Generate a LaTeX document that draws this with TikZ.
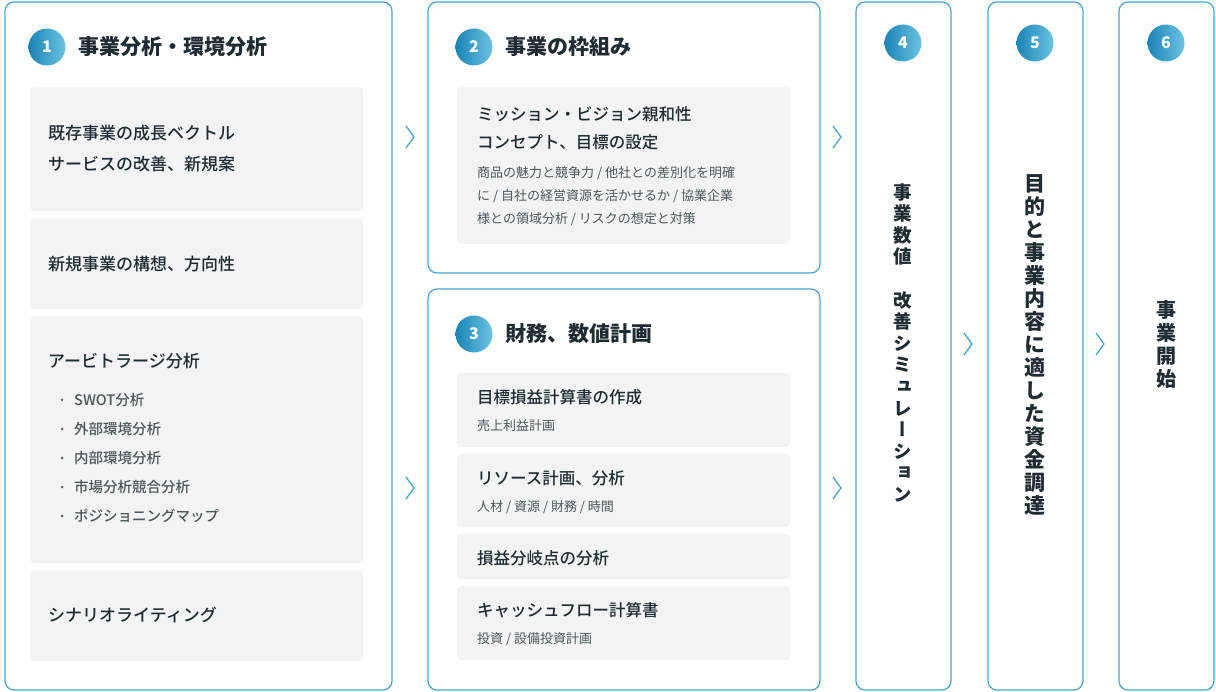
\documentclass[tikz,border=0pt]{standalone}
\usepackage{fontspec}
\setmainfont{Noto Sans CJK JP}
\newfontfamily\medfont{Noto Sans CJK JP Medium}
\newfontfamily\vjp[RawFeature=+vert]{Noto Sans CJK JP}
\definecolor{bord}{HTML}{4AA3CC}
\definecolor{gbox}{HTML}{F1F3F4}
\definecolor{txt}{HTML}{1F2D33}
\definecolor{cdark}{HTML}{1A84B6}
\definecolor{clight}{HTML}{6CC3E0}
\tikzset{
 panel/.style={draw=bord,line width=1.2pt,rounded corners=9pt,fill=white},
 gray/.style={fill=gbox,rounded corners=4pt},
 num/.style={circle,minimum size=37pt,inner sep=0pt,left color=cdark,right color=clight,text=white,font=\fontsize{16}{16}\selectfont\bfseries},
 ttl/.style={anchor=west,text=txt,font=\fontsize{21}{21}\selectfont\bfseries,inner sep=0pt},
 bt/.style={anchor=west,text=txt,font=\medfont\fontsize{17}{31}\selectfont,inner sep=0pt,align=left},
 bm/.style={anchor=west,text=txt,font=\medfont\fontsize{16.5}{28}\selectfont,inner sep=0pt,align=left},
 sm/.style={anchor=west,text=txt!80,font=\fontsize{13}{23}\selectfont,inner sep=0pt,align=left},
 chev/.style={draw=bord,line width=1.3pt},
 vt/.style={text=txt,inner sep=0pt,align=center,font=\vjp\bfseries}
}
\begin{document}
\begin{tikzpicture}[x=1pt,y=-1pt]
\useasboundingbox (0,0) rectangle (1216,692);
% panels
\draw[panel] (5,2) rectangle (392,690);
\draw[panel] (428,2) rectangle (820,273);
\draw[panel] (428,289) rectangle (820,690);
\draw[panel] (856,2) rectangle (951,690);
\draw[panel] (988,2) rectangle (1083,690);
\draw[panel] (1119,2) rectangle (1214,690);
% panel 1
\node[num] (n1) at (47,47) {1};
\node[ttl] (t1) at (78,47) {事業分析・環境分析};
\fill[gray] (30,87) rectangle (363,211);
\fill[gray] (30,218) rectangle (363,309);
\fill[gray] (30,316) rectangle (363,563);
\fill[gray] (30,570) rectangle (363,661);
\node[bt] (a1) at (48,149) {既存事業の成長ベクトル\\サービスの改善、新規案};
\node[bt] (a2) at (48,264) {新規事業の構想、方向性};
\node[bt] (a3) at (48,361) {アービトラージ分析};
\foreach \y/\s [count=\i] in {400/SWOT分析,429/外部環境分析,458/内部環境分析,487/市場分析競合分析,516/ポジショニングマップ}{
  \fill[txt!70] (62,\y) circle (1.5pt);
  \node[sm,font=\medfont\fontsize{14.5}{20}\selectfont] (b\i) at (74,\y) {\s};
}
\node[bt] (a4) at (48,615) {シナリオライティング};
% panel 2
\node[num] (n2) at (474,47) {2};
\node[ttl] (t2) at (505,47) {事業の枠組み};
\fill[gray] (457,87) rectangle (790,244);
\node[bm] (c1) at (477,128) {ミッション・ビジョン親和性\\コンセプト、目標の設定};
\node[sm] (c2) at (477,196) {商品の魅力と競争力 / 他社との差別化を明確\\に / 自社の経営資源を活かせるか / 協業企業\\様との領域分析 / リスクの想定と対策};
% panel 3
\node[num] (n3) at (474,334) {3};
\node[ttl] (t3) at (505,334) {財務、数値計画};
\fill[gray] (457,373) rectangle (790,447);
\fill[gray] (457,454) rectangle (790,527);
\fill[gray] (457,534) rectangle (790,579);
\fill[gray] (457,586) rectangle (790,660);
\node[bm] (d1) at (477,397) {目標損益計算書の作成};
\node[sm] (d1s) at (477,426) {売上利益計画};
\node[bm] (d2) at (477,478) {リソース計画、分析};
\node[sm] (d2s) at (477,507) {人材 / 資源 / 財務 / 時間};
\node[bm] (d3) at (477,558) {損益分岐点の分析};
\node[bm] (d4) at (477,610) {キャッシュフロー計算書};
\node[sm] (d4s) at (477,639) {投資 / 設備投資計画};
% panels 4-6
\node[num] (n4) at (903,43) {4};
\node[num] (n5) at (1035,43) {5};
\node[num] (n6) at (1166,43) {6};
\node[vt,font=\vjp\bfseries\fontsize{18.5}{21.6}\selectfont,anchor=north] (v4) at (903,183)
 {事\\業\\数\\値\\　\\改\\善\\シ\\ミ\\ュ\\レ\\ー\\シ\\ョ\\ン};
\node[vt,font=\vjp\bfseries\fontsize{21}{23}\selectfont,anchor=north] (v5) at (1035,174)
 {目\\的\\と\\事\\業\\内\\容\\に\\適\\し\\た\\資\\金\\調\\達};
\node[vt,font=\vjp\bfseries\fontsize{20}{23}\selectfont,anchor=north] (v6) at (1166,300)
 {事\\業\\開\\始};
% chevrons
\foreach \x/\y in {410/137,410/488,837/137,837/488,968/344,1100/344}{
  \draw[chev] (\x-4,\y-11) -- (\x+4,\y) -- (\x-4,\y+11);
}
\end{tikzpicture}
\end{document}
